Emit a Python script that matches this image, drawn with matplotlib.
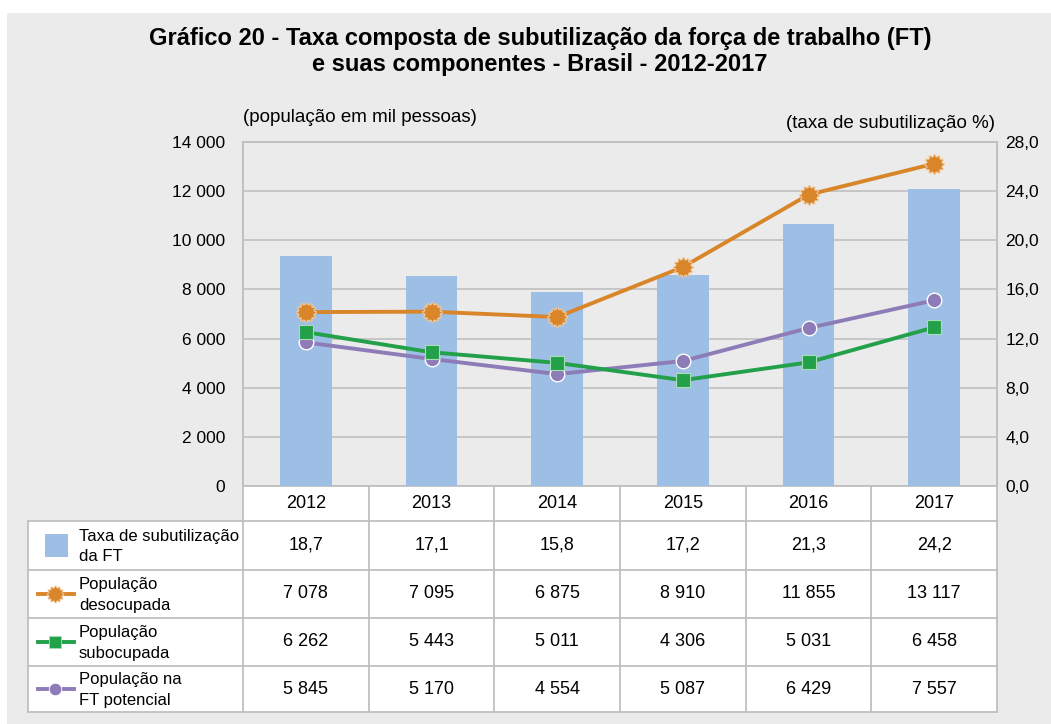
import matplotlib
matplotlib.use("Agg")
import matplotlib.pyplot as plt
from matplotlib.patches import Rectangle
from matplotlib.lines import Line2D
from matplotlib.path import Path
import matplotlib.ticker as mticker
import numpy as np

plt.rcParams['font.family'] = ['Liberation Sans', 'DejaVu Sans']

years = ["2012", "2013", "2014", "2015", "2016", "2017"]
taxa = [18.7, 17.1, 15.8, 17.2, 21.3, 24.2]
desocupada = [7078, 7095, 6875, 8910, 11855, 13117]
subocupada = [6262, 5443, 5011, 4306, 5031, 6458]
ft_potencial = [5845, 5170, 4554, 5087, 6429, 7557]

taxa_lbl = ["18,7", "17,1", "15,8", "17,2", "21,3", "24,2"]
deso_lbl = ["7 078", "7 095", "6 875", "8 910", "11 855", "13 117"]
sub_lbl = ["6 262", "5 443", "5 011", "4 306", "5 031", "6 458"]
pot_lbl = ["5 845", "5 170", "4 554", "5 087", "6 429", "7 557"]

series_names = ["Taxa de subutilização\nda FT", "População\ndesocupada",
                "População\nsubocupada", "População na\nFT potencial"]

C_BAR = "#9DBFE5"
C_OR = "#D9862A"
C_GR = "#23A04A"
C_PU = "#8E7CB8"
C_GRID = "#BFBFBF"
C_BG = "#EBEBEB"

# gear-shaped marker (12 teeth)
_verts = []
for k in range(12):
    a0 = np.deg2rad(k * 30)
    for da, r in [(-9, 0.82), (-6, 1.0), (6, 1.0), (9, 0.82)]:
        a = a0 + np.deg2rad(da)
        _verts.append((r * np.cos(a), r * np.sin(a)))
_verts.append(_verts[0])
GEAR = Path(_verts, [Path.MOVETO] + [Path.LINETO] * (len(_verts) - 2) + [Path.CLOSEPOLY])

W, H = 1051, 724
fig = plt.figure(figsize=(W / 100, H / 100), dpi=100, facecolor="white")

ov = fig.add_axes([0, 0, 1, 1], zorder=0)
ov.set_xlim(0, W)
ov.set_ylim(H, 0)
ov.axis("off")
ov.add_patch(Rectangle((7, 13), W - 7, H - 13, facecolor=C_BG, edgecolor="none"))

PL, PR, PT, PB = 243, 997, 142, 486
axL = fig.add_axes([PL / W, 1 - PB / H, (PR - PL) / W, (PB - PT) / H], zorder=3)
axR = axL.twinx()
axL.set_zorder(4)
axR.set_zorder(3)
axL.patch.set_visible(False)
axR.patch.set_facecolor("white")

x = np.arange(len(years))
axR.set_axisbelow(True)
axR.bar(x, taxa, width=0.41, color=C_BAR, zorder=2)
axR.set_ylim(0, 28)
axR.set_yticks(np.arange(0, 29, 4))
axR.yaxis.set_major_formatter(mticker.FuncFormatter(lambda v, p: f"{v:.1f}".replace(".", ",")))
axR.yaxis.grid(True, color=C_GRID, linewidth=1.2, zorder=0)

LW = 2.8
axL.plot(x, desocupada, color=C_OR, lw=LW, marker=GEAR, ms=14,
         mfc=C_OR, mec="#F3CFA5", mew=0.7, zorder=5)
axL.plot(x, ft_potencial, color=C_PU, lw=LW, marker="o", ms=10.5,
         mfc=C_PU, mec="white", mew=1.0, zorder=4)
axL.plot(x, subocupada, color=C_GR, lw=LW, marker="s", ms=9.5,
         mfc=C_GR, mec="#A8DDB5", mew=0.8, zorder=4.5)
axL.set_ylim(0, 14000)
axL.set_yticks(np.arange(0, 14001, 2000))
axL.yaxis.set_major_formatter(mticker.FuncFormatter(lambda v, p: f"{int(v):,}".replace(",", " ")))
axL.set_xlim(-0.5, 5.5)
axL.set_xticks([])
axR.set_xticks([])

for a in (axL, axR):
    for s in a.spines.values():
        s.set_color(C_GRID)
        s.set_linewidth(1.2)
    a.tick_params(axis="y", length=0, labelsize=12.5, colors="black")
axL.tick_params(axis="y", pad=13)
axR.tick_params(axis="y", pad=6)
axL.spines["bottom"].set_visible(False)
axR.spines["bottom"].set_visible(False)

# titles
ov.text(540, 38, "Gráfico 20 - Taxa composta de subutilização da força de trabalho (FT)",
        ha="center", va="center", fontsize=17, fontweight="bold")
ov.text(540, 65, "e suas componentes - Brasil - 2012-2017",
        ha="center", va="center", fontsize=17, fontweight="bold")
ov.text(243, 118, "(população em mil pessoas)", ha="left", va="center", fontsize=13.5)
ov.text(995, 124, "(taxa de subutilização %)", ha="right", va="center", fontsize=13.5)

# table
TL = 28
colw = (PR - PL) / len(years)
row_edges = [486, 521, 570, 618, 666, 712]
lc = C_GRID
lw = 1.3
ov.add_patch(Rectangle((PL, 486), PR - PL, 521 - 486, facecolor="white", edgecolor="none"))
ov.add_patch(Rectangle((TL, 521), PR - TL, 712 - 521, facecolor="white", edgecolor="none"))
ov.add_line(Line2D([PL, PR], [486, 486], color=lc, lw=lw))
for yv in row_edges[1:]:
    ov.add_line(Line2D([TL, PR], [yv, yv], color=lc, lw=lw))
ov.add_line(Line2D([TL, TL], [521, 712], color=lc, lw=lw))
for i in range(len(years) + 1):
    xv = PL + i * colw
    ov.add_line(Line2D([xv, xv], [486, 712], color=lc, lw=lw))

for i, yr in enumerate(years):
    ov.text(PL + (i + 0.5) * colw, 504, yr, ha="center", va="center", fontsize=13)

rows = [taxa_lbl, deso_lbl, sub_lbl, pot_lbl]
for r, vals in enumerate(rows):
    yc = (row_edges[r + 1] + row_edges[r + 2]) / 2
    for i, v in enumerate(vals):
        ov.text(PL + (i + 0.5) * colw, yc, v, ha="center", va="center", fontsize=13)
    ov.text(79, yc + 1, series_names[r], ha="left", va="center", fontsize=12, linespacing=1.45)

yc0 = (row_edges[1] + row_edges[2]) / 2
ov.add_patch(Rectangle((45, yc0 - 11.5), 23, 23, facecolor=C_BAR, edgecolor="none"))
icons = [(C_OR, GEAR, 12, "#F3CFA5"), (C_GR, "s", 8.5, "#A8DDB5"), (C_PU, "o", 9, "white")]
for k, (c, m, ms, mec) in enumerate(icons):
    yc = (row_edges[k + 2] + row_edges[k + 3]) / 2
    ov.add_line(Line2D([38, 74], [yc, yc], color=c, lw=LW))
    ov.add_line(Line2D([55], [yc], marker=m, ms=ms, mfc=c, mec=mec, mew=0.6, color=c))

fig.savefig("out.png", dpi=100, facecolor=fig.get_facecolor())
